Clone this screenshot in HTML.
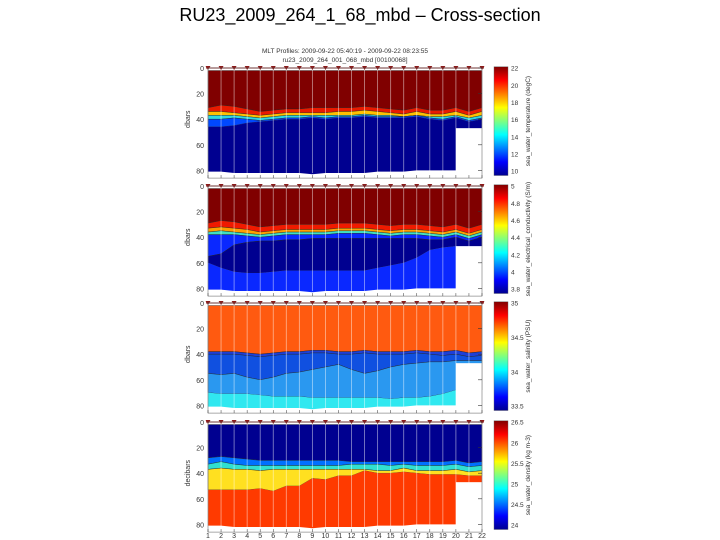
<!DOCTYPE html>
<html><head><meta charset="utf-8"><style>
html,body{margin:0;padding:0;background:#fff;width:720px;height:540px;overflow:hidden}
svg text{font-family:"Liberation Sans",sans-serif}
</style></head><body>
<svg id="c" width="720" height="540">
<text x="360" y="21" font-size="18" text-anchor="middle">RU23_2009_264_1_68_mbd – Cross-section</text>
<text x="345" y="53" font-size="6.5" text-anchor="middle" fill="#333">MLT Profiles: 2009-09-22 05:40:19 - 2009-09-22 08:23:55</text>
<text x="345" y="62" font-size="6.5" text-anchor="middle" fill="#333">ru23_2009_264_001_068_mbd [00100068]</text>
<defs><linearGradient id="jet" x1="0" y1="1" x2="0" y2="0">
<stop offset="0" stop-color="#00008f"/><stop offset="0.125" stop-color="#0000ff"/><stop offset="0.375" stop-color="#00ffff"/><stop offset="0.625" stop-color="#ffff00"/><stop offset="0.875" stop-color="#ff0000"/><stop offset="1" stop-color="#800000"/></linearGradient></defs>
<g id="plots"></g>
</svg>
<script>
const profiles=[1,2,3,4,5,6,7,8,9,10,11,12,13,14,15,16,17,18,19,20,21,22];
const depthTicks=[0,20,40,60,80];
const gapStartProfile=20, gapDepth=47;
const bottomDepth=[81,81,82,82,82,82,82,82,83,82,82,82,82,81,81,81,80,80,80,80,80,80];
const tempB1=[31,29,30,32,34,33,32,32,31,31,31,31,30,31,32,33,31,33,33,31,34,31];
const tempB2=[34,34,35,36,37,36,35,35,35,35,34,34,33,34,35,36,34,36,36,34,37,34];
const tempB3=[37,37,37,38,39,38,37,37,37,37,37,37,36,37,37,38,37,38,38,37,39,37];
const tempB4=[40,40,39,40,41,40,39,39,38,39,38,38,37,38,38,38,37,39,40,38,41,39];
const tempB5=[46,46,45,43,42,41,40,40,39,40,39,39,38,39,39,39,38,40,41,39,42,40];
const condB1=[29,27,28,30,32,31,30,30,30,30,29,29,29,30,31,30,30,31,32,30,33,30];
const condB2=[33,32,33,34,36,35,34,34,34,34,33,33,33,34,35,34,34,35,36,34,37,34];
const condB3=[36,35,36,37,38,37,36,36,36,36,35,35,35,36,37,36,36,37,38,36,39,36];
const condB4=[38,38,38,39,40,39,38,38,38,38,37,37,37,38,39,38,38,39,40,38,41,38];
const condB5=[55,53,46,44,43,43,42,42,41,41,41,41,41,41,41,41,41,42,42,40,43,40];
const condB6=[60,64,67,68,68,67,66,66,66,66,66,66,66,64,62,60,56,50,48,47,47,47];
const salB1=[38,38,38,39,40,39,38,38,37,37,38,38,37,38,38,38,37,38,38,37,39,38];
const salB2=[40,40,40,41,42,41,40,40,39,39,40,40,39,40,40,40,39,40,41,40,42,41];
const salB3=[55,56,55,58,60,58,55,54,52,50,48,52,55,53,50,48,47,46,46,45,45,45];
const salB4=[70,71,71,71,72,73,73,73,74,74,74,74,74,74,75,74,74,73,71,68,68,68];
const denB1=[28,27,28,29,30,30,30,30,30,30,30,31,31,31,31,31,31,31,31,30,32,31];
const denB2=[33,31,33,34,34,34,34,34,34,34,34,33,33,33,34,33,34,34,34,33,35,34];
const denB3=[37,36,37,37,38,37,37,37,37,37,37,37,37,38,38,36,38,38,38,37,39,38];
const denB4=[53,53,53,53,52,54,50,50,44,45,42,42,38,40,40,39,40,41,41,41,42,42];
const panels=[
 {top:68,label:"dbars",cb:"sea_water_temperature (degC)",cbt:["22","20","18","16","14","12","10"],
  b:[tempB1,tempB2,tempB3,tempB4,tempB5,bottomDepth],col:["#800000","#e81a00","#ffc000","#30d8e0","#0048ff","#000090"],name:"temperature"},
 {top:186,label:"dbars",cb:"sea_water_electrical_conductivity (S/m)",cbt:["5","4.8","4.6","4.4","4.2","4","3.8"],
  b:[condB1,condB2,condB3,condB4,condB5,condB6,bottomDepth],col:["#800000","#f01a00","#ffa000","#40e0c0","#0a28ff","#000090","#0a28ff"],name:"conductivity"},
 {top:303,label:"dbars",cb:"sea_water_salinity (PSU)",cbt:["35","","34.5","","34","","33.5"],
  b:[salB1,salB2,salB3,salB4,bottomDepth],col:["#ff5a10","#1e3fd8","#1050e0","#2a98f0","#30e8f0"],name:"salinity"},
 {top:422,label:"decibars",cb:"sea_water_density (kg m-3)",cbt:["26.5","26","25.5","25","24.5","24"],
  b:[denB1,denB2,denB3,denB4,bottomDepth],col:["#000090","#0070ff","#30e0d0","#ffe020","#ff3a00"],name:"density"}
];
const X0=208,X1=482,SC=1.28;
const xs=p=>X0+(p-1)*(X1-X0)/21;
const g=document.getElementById('plots');
const NS='http://www.w3.org/2000/svg';
function mk(t,a,par){const e=document.createElementNS(NS,t);for(const k in a)e.setAttribute(k,a[k]);(par||g).appendChild(e);return e;}
panels.forEach((P,pi)=>{
 const ys=d=>P.top+d*SC;
 const grp=mk('g',{});
 
 
 let prev=profiles.map(()=>2);
 P.b.forEach((arr,li)=>{
  let pts=profiles.map((p,i)=>xs(p)+','+ys(arr[i])).join(' ');
  pts+=' '+profiles.slice().reverse().map((p,j)=>{const i=profiles.length-1-j;return xs(p)+','+ys(prev[i]);}).join(' ');
  const poly=mk('polygon',{points:pts,fill:P.col[li],stroke:li<P.b.length-1?'#222':'none','stroke-width':0.4},grp);
  
  
  prev=arr;
 });
 const gap=mk('rect',{x:xs(gapStartProfile),y:ys(gapDepth),width:X1-xs(gapStartProfile),height:ys(88)-ys(gapDepth),fill:'#fff'},grp);
 
 
 profiles.forEach(p=>{
  const l=mk('line',{x1:xs(p),x2:xs(p),y1:ys(1),y2:ys(82),stroke:'#fff','stroke-opacity':0.55,'stroke-width':0.8},grp);
  
  
  const m=mk('path',{d:`M${xs(p)-2.5},${ys(0)-2} L${xs(p)+2.5},${ys(0)-2} L${xs(p)},${ys(0)+2}Z`,fill:'#8b1a1a'},grp);
  
  
 });
 mk('line',{x1:X0-2,x2:X1+2,y1:ys(0),y2:ys(0),stroke:'#8b1a1a','stroke-width':1},grp);
 mk('rect',{x:X0,y:ys(0),width:X1-X0,height:ys(86)-ys(0),fill:'none',stroke:'#555','stroke-width':0.5},grp);
 depthTicks.forEach(d=>{
  const t=mk('text',{x:X0-4,y:ys(d)+3,'font-size':7,'text-anchor':'end',fill:'#333'},grp);t.textContent=d;
  
  
  mk('line',{x1:X1-4,x2:X1,y1:ys(d),y2:ys(d),stroke:'#333','stroke-width':0.6},grp);
 });
 profiles.forEach(p=>mk('line',{x1:xs(p),x2:xs(p),y1:ys(86),y2:ys(86)-3,stroke:'#333','stroke-width':0.5},grp));
 const yl=mk('text',{x:0,y:0,'font-size':7,'text-anchor':'middle',fill:'#333',transform:`translate(190,${ys(40)}) rotate(-90)`},grp);yl.textContent=P.label;
 
 
 const cy0=ys(-1),cy1=ys(84);
 const cbr=mk('rect',{x:494,y:cy0,width:14,height:cy1-cy0,fill:'url(#jet)',stroke:'#666','stroke-width':0.4},grp);
 
 
 P.cbt.forEach((s,i)=>{
  const t=mk('text',{x:511,y:cy0+4+i*(cy1-cy0-6)/(P.cbt.length-1),'font-size':6.5,fill:'#333'},grp);t.textContent=s;
  
  
 });
 const cl=mk('text',{x:0,y:0,'font-size':6.5,'text-anchor':'middle',fill:'#333',transform:`translate(530,${(cy0+cy1)/2}) rotate(-90)`},grp);cl.textContent=P.cb;
 
 
 if(pi===3){profiles.forEach(p=>{const t=mk('text',{x:xs(p),y:538,'font-size':7,'text-anchor':'middle',fill:'#333'},grp);t.textContent=p;
  
  });}
});
</script>
</body></html>
